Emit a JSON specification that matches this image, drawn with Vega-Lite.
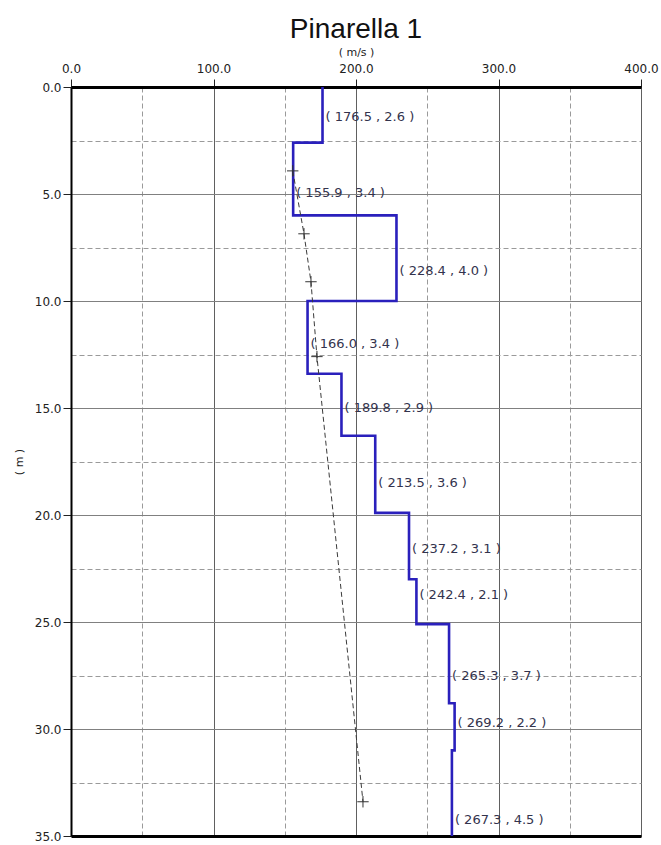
{
  "$schema": "https://vega.github.io/schema/vega-lite/v6.json",
  "width": 570,
  "height": 749,
  "autosize": "none",
  "padding": {"left": 71, "top": 87, "right": 20, "bottom": 9},
  "background": "white",
  "config": {
    "font": "Liberation Sans",
    "view": {"stroke": "black", "strokeWidth": 1}
  },
  "title": {
    "text": "Pinarella 1",
    "fontSize": 28,
    "fontWeight": "normal",
    "color": "#111111",
    "anchor": "middle",
    "offset": 2
  },
  "datasets": {
    "profile": [
      {"v": 176.5, "depth": 0.0, "k": 0},
      {"v": 176.5, "depth": 2.6, "k": 1},
      {"v": 155.9, "depth": 2.6, "k": 2},
      {"v": 155.9, "depth": 6.0, "k": 3},
      {"v": 228.4, "depth": 6.0, "k": 4},
      {"v": 228.4, "depth": 10.0, "k": 5},
      {"v": 166.0, "depth": 10.0, "k": 6},
      {"v": 166.0, "depth": 13.4, "k": 7},
      {"v": 189.8, "depth": 13.4, "k": 8},
      {"v": 189.8, "depth": 16.3, "k": 9},
      {"v": 213.5, "depth": 16.3, "k": 10},
      {"v": 213.5, "depth": 19.9, "k": 11},
      {"v": 237.2, "depth": 19.9, "k": 12},
      {"v": 237.2, "depth": 23.0, "k": 13},
      {"v": 242.4, "depth": 23.0, "k": 14},
      {"v": 242.4, "depth": 25.1, "k": 15},
      {"v": 265.3, "depth": 25.1, "k": 16},
      {"v": 265.3, "depth": 28.8, "k": 17},
      {"v": 269.2, "depth": 28.8, "k": 18},
      {"v": 269.2, "depth": 31.0, "k": 19},
      {"v": 267.3, "depth": 31.0, "k": 20},
      {"v": 267.3, "depth": 35.0, "k": 21}
    ],
    "layers": [
      {"v": 176.5, "h": 2.6, "ly": 1.4, "label": "( 176.5 , 2.6 )"},
      {"v": 155.9, "h": 3.4, "ly": 4.95, "label": "( 155.9 , 3.4 )"},
      {"v": 228.4, "h": 4.0, "ly": 8.6, "label": "( 228.4 , 4.0 )"},
      {"v": 166.0, "h": 3.4, "ly": 12.0, "label": "( 166.0 , 3.4 )"},
      {"v": 189.8, "h": 2.9, "ly": 15.0, "label": "( 189.8 , 2.9 )"},
      {"v": 213.5, "h": 3.6, "ly": 18.5, "label": "( 213.5 , 3.6 )"},
      {"v": 237.2, "h": 3.1, "ly": 21.6, "label": "( 237.2 , 3.1 )"},
      {"v": 242.4, "h": 2.1, "ly": 23.75, "label": "( 242.4 , 2.1 )"},
      {"v": 265.3, "h": 3.7, "ly": 27.5, "label": "( 265.3 , 3.7 )"},
      {"v": 269.2, "h": 2.2, "ly": 29.7, "label": "( 269.2 , 2.2 )"},
      {"v": 267.3, "h": 4.5, "ly": 34.25, "label": "( 267.3 , 4.5 )"}
    ],
    "trend": [
      {"v": 155.6, "depth": 3.92},
      {"v": 163.5, "depth": 6.86},
      {"v": 168.4, "depth": 9.1},
      {"v": 172.6, "depth": 12.6},
      {"v": 204.9, "depth": 33.4}
    ]
  },
  "resolve": {"axis": {"x": "independent", "y": "independent"}},
  "layer": [
    {
      "data": {"name": "profile"},
      "mark": {"type": "line", "color": "#2a20bc", "strokeWidth": 2.6, "clip": true},
      "encoding": {
        "x": {
          "field": "v", "type": "quantitative",
          "scale": {"domain": [0, 400], "nice": false, "zero": false},
          "axis": {
            "orient": "top",
            "title": "( m/s )",
            "titleFont": "DejaVu Sans",
            "titleFontSize": 11,
            "titleFontWeight": "normal",
            "titleColor": "#222222",
            "titlePadding": 5,
            "values": [0, 50, 100, 150, 200, 250, 300, 350, 400],
            "labelExpr": "datum.value % 100 === 0 ? format(datum.value, '.1f') : ''",
            "labelFont": "DejaVu Sans",
            "labelFontSize": 12,
            "labelColor": "#222222",
            "labelPadding": 4,
            "labelFlush": false,
            "tickColor": "#222222",
            "tickSize": 8,
            "tickOpacity": {"condition": {"test": "datum.value % 100 !== 0", "value": 0}, "value": 1},
            "domainColor": "black",
            "domainWidth": 3,
            "grid": true,
            "gridColor": {"condition": {"test": "datum.value % 100 !== 0", "value": "#9a9a9a"}, "value": "#606060"},
            "gridDash": {"condition": {"test": "datum.value % 100 !== 0", "value": [5, 3]}, "value": []},
            "gridWidth": 1
          }
        },
        "y": {
          "field": "depth", "type": "quantitative",
          "scale": {"domain": [0, 35], "reverse": true, "nice": false, "zero": false},
          "axis": {
            "orient": "left",
            "title": "( m )",
            "titleFont": "DejaVu Sans",
            "titleFontSize": 11,
            "titleFontWeight": "normal",
            "titleColor": "#222222",
            "titlePadding": 10,
            "values": [0, 2.5, 5, 7.5, 10, 12.5, 15, 17.5, 20, 22.5, 25, 27.5, 30, 32.5, 35],
            "labelExpr": "datum.value % 5 === 0 ? format(datum.value, '.1f') : ''",
            "labelFont": "DejaVu Sans",
            "labelFontSize": 12,
            "labelColor": "#222222",
            "labelPadding": 2,
            "labelFlush": false,
            "tickColor": "#222222",
            "tickSize": 8,
            "tickOpacity": {"condition": {"test": "datum.value % 5 !== 0", "value": 0}, "value": 1},
            "domainColor": "black",
            "domainWidth": 2,
            "grid": true,
            "gridColor": {"condition": {"test": "datum.value % 5 !== 0", "value": "#9a9a9a"}, "value": "#808080"},
            "gridDash": {"condition": {"test": "datum.value % 5 !== 0", "value": [5, 3]}, "value": []},
            "gridWidth": 1
          }
        },
        "order": {"field": "k", "type": "quantitative"}
      }
    },
    {
      "data": {"name": "trend"},
      "mark": {"type": "line", "color": "#3a3a3a", "strokeWidth": 1, "strokeDash": [5, 3]},
      "encoding": {
        "x": {"field": "v", "type": "quantitative", "axis": {"orient": "bottom", "labels": false, "ticks": false, "grid": false, "title": null, "domainColor": "black", "domainWidth": 3}},
        "y": {"field": "depth", "type": "quantitative", "axis": null},
        "order": {"field": "depth", "type": "quantitative"}
      }
    },
    {
      "data": {"name": "trend"},
      "mark": {"type": "point", "shape": "M-1,0H1M0,-1V1", "size": 130, "filled": false, "color": "#333333", "strokeWidth": 1, "opacity": 1},
      "encoding": {
        "x": {"field": "v", "type": "quantitative", "axis": null},
        "y": {"field": "depth", "type": "quantitative", "axis": null}
      }
    },
    {
      "data": {"name": "layers"},
      "mark": {"type": "text", "align": "left", "baseline": "middle", "dx": 3, "font": "DejaVu Sans", "fontSize": 13, "color": "#33334d"},
      "encoding": {
        "x": {"field": "v", "type": "quantitative", "axis": null},
        "y": {"field": "ly", "type": "quantitative", "axis": null},
        "text": {"field": "label", "type": "nominal"}
      }
    }
  ]
}
